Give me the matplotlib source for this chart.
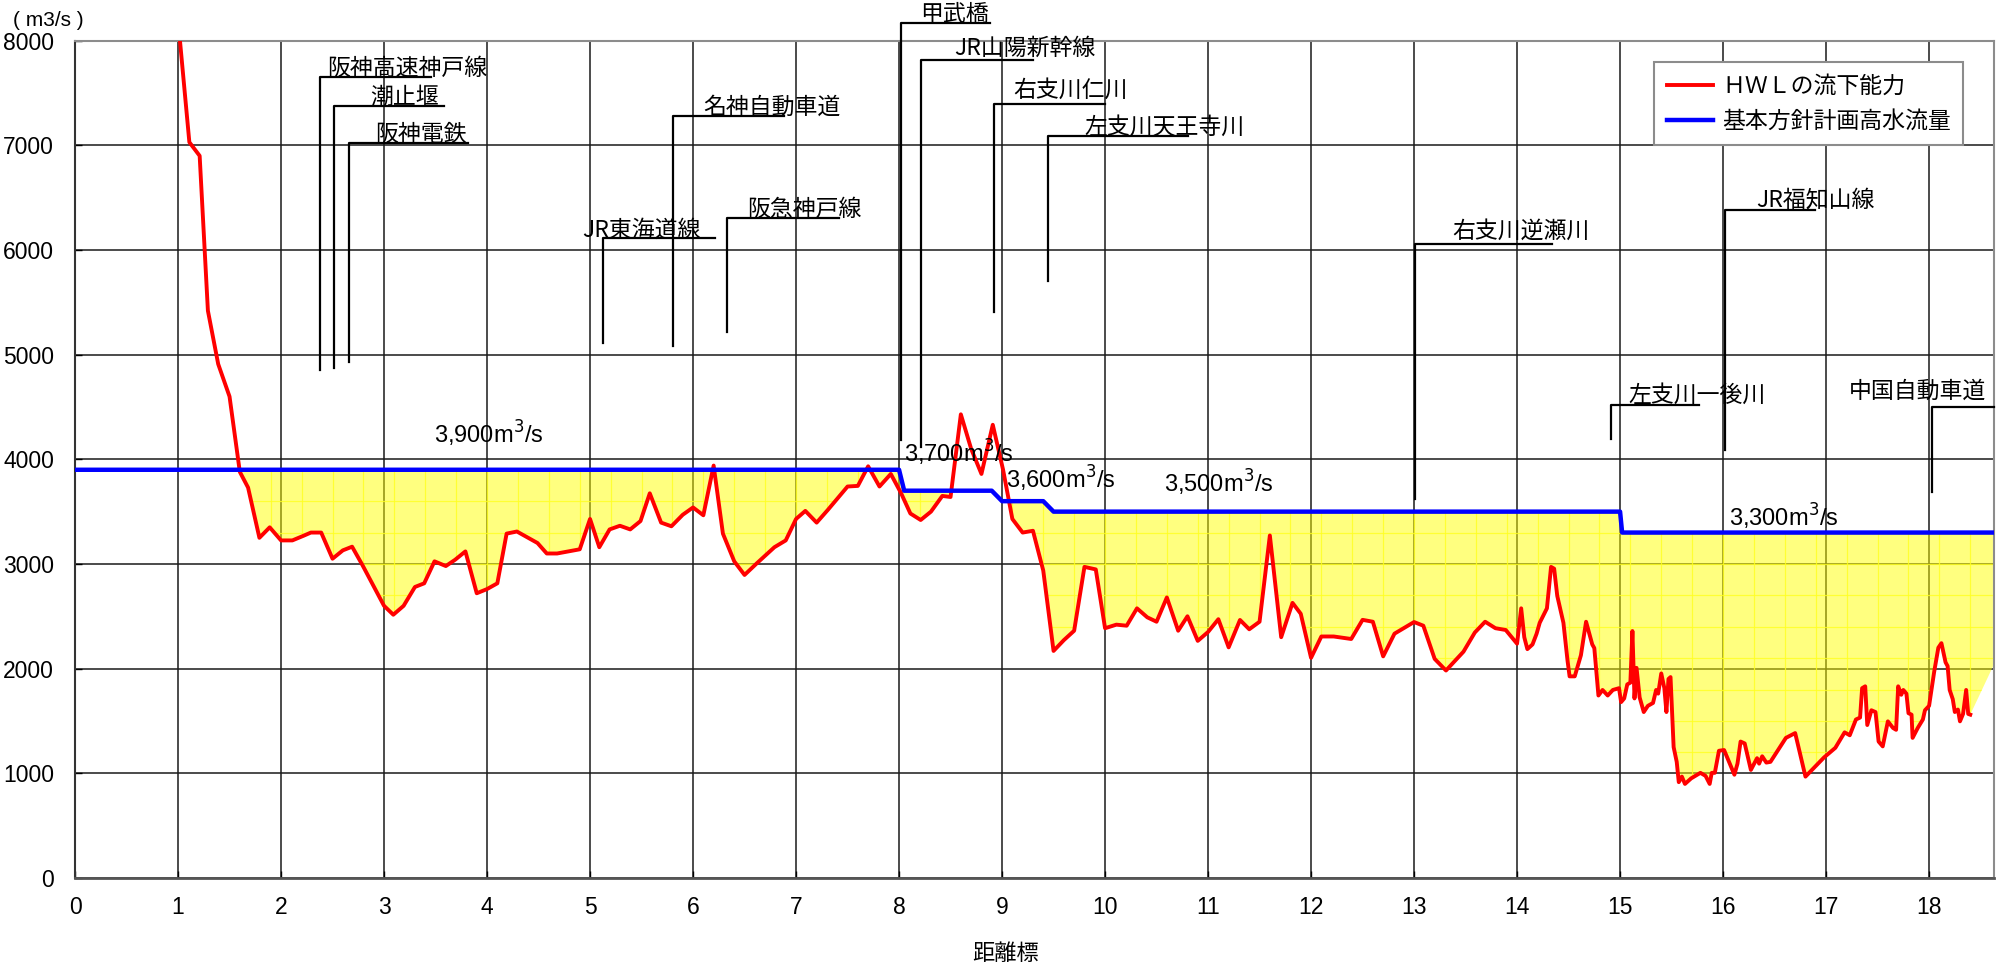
import numpy as np
import matplotlib

matplotlib.use('Agg')
import matplotlib.pyplot as plt
from matplotlib.path import Path
from matplotlib.collections import LineCollection

JP = 'Noto Sans CJK JP'
NUM = ['Liberation Sans Narrow', 'Liberation Sans', JP]
plt.rcParams['font.family'] = NUM
plt.rcParams['mathtext.fontset'] = 'custom'
plt.rcParams['mathtext.rm'] = 'Liberation Sans Narrow'

# HWL capacity (km, m3/s)
hwl_x = [1.00, 1.11, 1.21, 1.29, 1.39, 1.50, 1.60, 1.68, 1.79, 1.89, 2.00, 2.11, 2.22, 2.29, 2.39,
         2.50, 2.60, 2.69, 2.79, 3.00, 3.09, 3.19, 3.30, 3.39, 3.49, 3.60, 3.69, 3.79, 3.90, 4.00,
         4.10, 4.19, 4.29, 4.40, 4.49, 4.58, 4.68, 4.79, 4.90, 5.00, 5.09, 5.19, 5.29, 5.39, 5.49,
         5.58, 5.69, 5.79, 5.90, 6.00, 6.10, 6.20, 6.29, 6.40, 6.50, 6.62, 6.79, 6.90, 7.00, 7.09,
         7.20, 7.31, 7.40, 7.50, 7.60, 7.70, 7.81, 7.92, 8.02, 8.11, 8.21, 8.31, 8.42, 8.50, 8.60,
         8.70, 8.80, 8.91, 9.01, 9.10, 9.20, 9.30, 9.40, 9.50, 9.60, 9.70, 9.80, 9.91, 10.00, 10.11,
         10.21, 10.31, 10.41, 10.50, 10.60, 10.71, 10.80, 10.90, 11.00, 11.10, 11.20, 11.31, 11.40,
         11.50, 11.60, 11.71, 11.82, 11.90, 12.00, 12.10, 12.22, 12.39, 12.50, 12.60, 12.70, 12.81,
         13.00, 13.09, 13.20, 13.31, 13.48, 13.59, 13.69, 13.79, 13.89, 14.00, 14.04, 14.07, 14.10,
         14.15, 14.19, 14.22, 14.25, 14.29, 14.33, 14.36, 14.39, 14.45, 14.49, 14.51, 14.56, 14.62,
         14.67, 14.73, 14.75, 14.79, 14.83, 14.88, 14.93, 14.99, 15.01, 15.04, 15.07, 15.10, 15.12,
         15.14, 15.16, 15.19, 15.23, 15.27, 15.32, 15.35, 15.37, 15.40, 15.43, 15.45, 15.47, 15.49,
         15.52, 15.55, 15.57, 15.60, 15.63, 15.69, 15.73, 15.78, 15.83, 15.87, 15.89, 15.92, 15.96,
         16.01, 16.11, 16.14, 16.17, 16.21, 16.27, 16.33, 16.35, 16.38, 16.42, 16.46, 16.53, 16.61,
         16.70, 16.80, 16.98, 17.09, 17.18, 17.23, 17.29, 17.33, 17.35, 17.38, 17.40, 17.44, 17.48,
         17.51, 17.55, 17.60, 17.65, 17.68, 17.70, 17.73, 17.75, 17.78, 17.80, 17.83, 17.84, 17.89,
         17.94, 17.96, 18.00, 18.05, 18.09, 18.12, 18.16, 18.18, 18.20, 18.23, 18.25, 18.28, 18.30,
         18.33, 18.36, 18.38, 18.40]
hwl_q = [8200, 7030, 6900, 5420, 4910, 4600, 3880, 3730, 3250, 3350, 3225, 3225, 3270, 3300, 3300,
         3050, 3130, 3165, 2990, 2600, 2515, 2600, 2780, 2815, 3025, 2980, 3040, 3120, 2720, 2760,
         2815, 3290, 3310, 3250, 3200, 3100, 3100, 3120, 3140, 3430, 3160, 3330, 3365, 3330, 3410,
         3675, 3395, 3360, 3470, 3540, 3465, 3940, 3290, 3025, 2895, 3007, 3160, 3225, 3430, 3507,
         3395, 3518, 3623, 3740, 3746, 3933, 3740, 3860, 3676, 3482, 3420, 3500, 3650, 3640, 4430,
         4100, 3860, 4330, 3900, 3430, 3300, 3317, 2937, 2169, 2272, 2362, 2972, 2948, 2386, 2420,
         2410, 2576, 2490, 2448, 2680, 2362, 2500, 2265, 2350, 2472, 2203, 2465, 2376,
         2448, 3272, 2300, 2628, 2524, 2103, 2307, 2307, 2283, 2466, 2448, 2117, 2334,
         2445, 2410, 2093, 1982, 2162, 2345, 2448, 2386, 2369, 2238, 2576, 2300, 2186,
         2231, 2334, 2438, 2497, 2576, 2972, 2955, 2696, 2438, 2076, 1926, 1926, 2128,
         2448, 2231, 2196, 1743, 1796, 1743, 1796, 1813, 1680, 1715, 1849, 1866, 2359,
         1715, 2007, 1725, 1585, 1644, 1672, 1796, 1761, 1954, 1813, 1585, 1901, 1919,
         1250, 1109, 915, 968, 898, 951, 975, 1004, 975, 898, 1004, 1004, 1215,
         1222, 986, 1092, 1303, 1285, 1032, 1144, 1092, 1162, 1102, 1109, 1215, 1338,
         1384, 968, 1151, 1243, 1391, 1363, 1514, 1532, 1813, 1831, 1461, 1602, 1585,
         1303, 1257, 1496, 1433, 1415, 1831, 1750, 1796, 1761, 1574, 1560, 1338, 1433,
         1514, 1602, 1644, 1972, 2200, 2243, 2060, 2024, 1796, 1708, 1585, 1609, 1496,
         1567, 1796, 1567, 1560]
# the shaded area runs on past the last section to the chart edge
fill_tail_x = [18.62]
fill_tail_q = [2020]

# design high-water discharge (step line)
plan_x = [0.0, 8.00, 8.05, 8.90, 9.00, 9.40, 9.50, 15.00, 15.02, 18.63]
plan_q = [3900, 3900, 3700, 3700, 3600, 3600, 3500, 3500, 3300, 3300]

plan_labels = ['3,900', '3,700', '3,600', '3,500', '3,300']
plan_label_x = [4.02, 8.58, 9.57, 11.1, 16.59]
plan_label_q = [4245, 4060, 3817, 3771, 3454]

# structures / tributaries
struct_names = ['阪神高速神戸線', '潮止堰', '阪神電鉄', 'JR東海道線', '名神自動車道', '阪急神戸線',
                '甲武橋', 'JR山陽新幹線', '右支川仁川', '左支川天王寺川', '右支川逆瀬川',
                '左支川一後川', 'JR福知山線', '中国自動車道']
struct_x = [2.38, 2.51, 2.66, 5.13, 5.81, 6.33, 8.02, 8.21, 8.92, 9.45, 13.01, 14.91, 16.02, 18.03]
lead_bottom = [4850, 4870, 4930, 5110, 5080, 5220, 4180, 4120, 5410, 5700, 3620, 4190, 4090, 3690]
lead_top = [7650, 7380, 7020, 6110, 7280, 6310, 8165, 7815, 7395, 7090, 6055, 4515, 6380, 4500]
lead_end = [3.46, 3.58, 3.82, 6.21, 6.88, 7.42, 8.88, 9.30, 10.0, 10.81, 14.34, 15.77, 16.89, 18.63]
name_x = [2.45, 2.87, 2.91, 4.92, 6.10, 6.53, 8.20, 8.54, 9.11, 9.80, 13.37, 15.08, 16.32, 17.22]
name_lift = [20, 20, 20, 20, 20, 20, 20, 50, 70, 20, 60, 30, 40, 90]

fig = plt.figure(figsize=(20.06, 9.69), dpi=100)
ax = fig.add_axes([0.0374, 0.094, 0.9566, 0.864])
ax.set_xlim(0, 18.63)
ax.set_ylim(0, 8000)
ax.set_axisbelow(True)
ax.grid(True, color='#1a1a1a', lw=1.1)
ax.set_xticks(range(0, 19))
ax.set_yticks(range(0, 8001, 1000))
ax.tick_params(direction='in', length=5, labelsize=16.5, width=1)
ax.tick_params(axis='x', pad=13)
ax.tick_params(axis='y', pad=15)
for side in ['top', 'right']:
    ax.spines[side].set_color('#8c8c8c')
    ax.spines[side].set_linewidth(1.5)
ax.spines['left'].set_color('#333333')
ax.spines['left'].set_linewidth(1.5)
ax.spines['bottom'].set_color('#555555')
ax.spines['bottom'].set_linewidth(2)

# shaded deficit area
fx = np.array(hwl_x + fill_tail_x)
fq = np.array(hwl_q + fill_tail_q)
grid_x = np.union1d(fx, [p for p in plan_x if fx[0] <= p <= fx[-1]])
red_i = np.interp(grid_x, fx, fq)
blue_i = np.interp(grid_x, plan_x, plan_q)
coll = ax.fill_between(grid_x, red_i, blue_i, where=red_i < blue_i, interpolate=True,
                       facecolor='#ffff00', alpha=0.5, edgecolor='none', zorder=1)
clip = Path.make_compound_path(*coll.get_paths())
segs = [[(gx, 0), (gx, 8000)] for gx in np.arange(0.1, 18.7, 0.3)]
segs += [[(0, gy), (18.63, gy)] for gy in np.arange(300, 8000, 300)]
pattern = LineCollection(segs, colors='#ffff20', linewidths=0.9, alpha=0.8, zorder=1.1)
ax.add_collection(pattern)
pattern.set_clip_path(clip, ax.transData)

ax.plot(hwl_x, hwl_q, color='#ff0000', lw=2.8, zorder=3, label='ＨＷＬの流下能力')
ax.plot(plan_x, plan_q, color='#0000ff', lw=3.2, zorder=3, label='基本方針計画高水流量')

for lab, lx, lq in zip(plan_labels, plan_label_x, plan_label_q):
    ax.text(lx, lq, lab + r'm$^{3}$/s', fontsize=17, ha='center', va='center', zorder=4)

for name, sx, yb, yt, xe, nx, lift in zip(struct_names, struct_x, lead_bottom, lead_top,
                                          lead_end, name_x, name_lift):
    ax.plot([sx, sx, xe], [yb, yt, yt], color='black', lw=1.6, clip_on=False, zorder=4)
    ax.text(nx, yt + lift, name, family=[JP], fontsize=16.5, ha='left', va='baseline',
            clip_on=False, zorder=5)

leg = ax.legend(loc='upper right', bbox_to_anchor=(0.984, 0.974), borderaxespad=0,
                prop={'family': [JP], 'size': 16.5}, fancybox=False, framealpha=1,
                edgecolor='#8c8c8c', handlelength=2.0, handletextpad=0.4,
                labelspacing=0.5, borderpad=0.55)
leg.get_frame().set_linewidth(1.5)

ax.set_xlabel('距離標', family=[JP], fontsize=16)
ax.xaxis.set_label_coords(0.485, -0.076)
fig.text(0.024, 0.979, '( m3/s )', family=['Liberation Sans'], fontsize=15,
         ha='center', va='center')

fig.savefig('out.png', dpi=100)
